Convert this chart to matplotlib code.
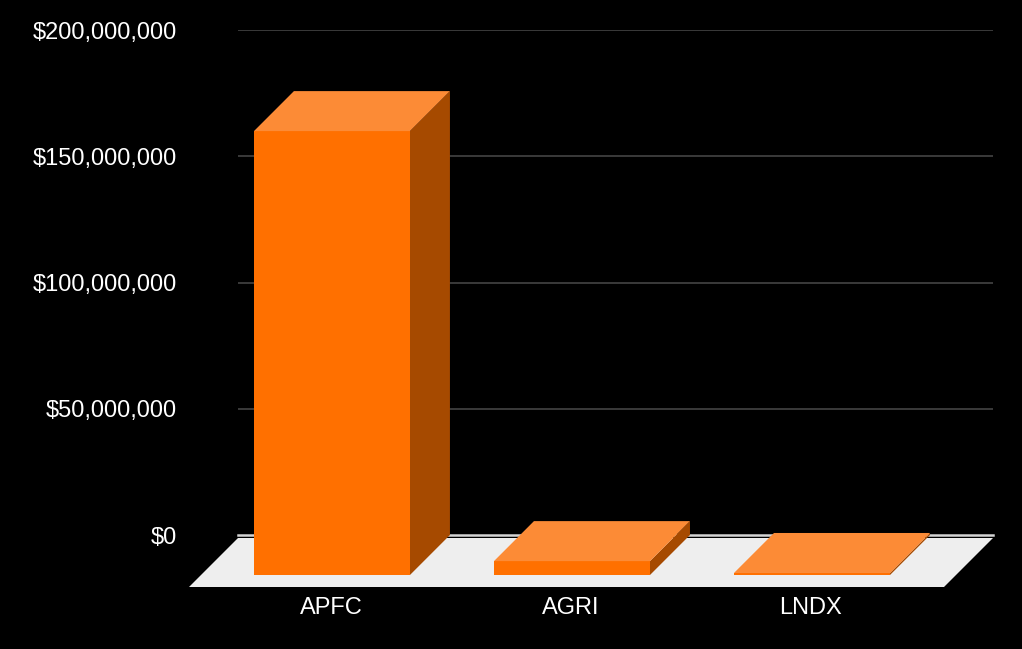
import matplotlib
matplotlib.use("Agg")
import matplotlib.pyplot as plt
from matplotlib.patches import Polygon
from matplotlib.ticker import FuncFormatter

categories = ["APFC", "AGRI", "LNDX"]
values = [175.8e6, 5.5e6, 0.8e6]
yticks = [0, 50e6, 100e6, 150e6, 200e6]

FRONT = "#FF7000"
TOP = "#FC8B36"
SIDE = "#A64A00"
FLOOR = "#EEEEEE"

W, H = 1022, 649
fig = plt.figure(figsize=(W / 100, H / 100), dpi=100, facecolor="black")
ax_l, ax_r, ax_t, ax_b = 238, 993, 30, 535
ax = fig.add_axes([ax_l / W, (H - ax_b) / H, (ax_r - ax_l) / W, (ax_b - ax_t) / H])
ax.set_facecolor("black")
xmin, xmax = -0.558, 2.5875
ax.set_xlim(xmin, xmax)
ax.set_ylim(0, 200e6)
for s in ax.spines.values():
    s.set_visible(False)

ux = (xmax - xmin) / (ax_r - ax_l)   # data units per pixel (x)
uy = 200e6 / (ax_b - ax_t)           # data units per pixel (y)

ax.set_yticks(yticks)
ax.yaxis.set_major_formatter(FuncFormatter(lambda v, p: "${:,.0f}".format(v)))
ax.tick_params(axis="y", length=0, pad=44, labelsize=17, labelcolor="white")
for lab in ax.get_yticklabels():
    lab.set_fontfamily("Liberation Sans")
ax.set_xticks([])
for t in yticks[1:]:
    ax.axhline(t, color="#444444", lw=1.2, zorder=0)

# floor
d_floor = 49
fy = -3 * uy
floor = Polygon([(xmin, fy), (xmax, fy),
                 (xmax - d_floor * ux, fy - d_floor * uy),
                 (xmin - d_floor * ux, fy - d_floor * uy)],
                closed=True, facecolor=FLOOR, edgecolor="none", clip_on=False, zorder=1)
ax.add_patch(floor)
ax.axhline(0, color="#D4D4D4", lw=1.8, zorder=1.5, clip_on=False)

# bars
d = 40
dx, dy = d * ux, d * uy
bw = 0.65
for i, v in enumerate(values):
    xl, xr = i - bw / 2, i + bw / 2
    # front face (shifted down-left)
    front = Polygon([(xl - dx, -dy), (xr - dx, -dy), (xr - dx, v - dy), (xl - dx, v - dy)],
                    closed=True, facecolor=FRONT, edgecolor="none", clip_on=False, zorder=3)
    side = Polygon([(xr - dx, -dy), (xr, 0), (xr, v), (xr - dx, v - dy)],
                   closed=True, facecolor=SIDE, edgecolor="none", clip_on=False, zorder=3)
    top = Polygon([(xl - dx, v - dy), (xr - dx, v - dy), (xr, v), (xl, v)],
                  closed=True, facecolor=TOP, edgecolor="none", clip_on=False, zorder=4)
    for p in (side, front, top):
        ax.add_patch(p)
    ax.text(i - 41 * ux, -73 * uy, categories[i], ha="center", va="center",
            color="white", fontsize=17, family="Liberation Sans", clip_on=False)

fig.savefig("out.png", dpi=100, facecolor="black")
